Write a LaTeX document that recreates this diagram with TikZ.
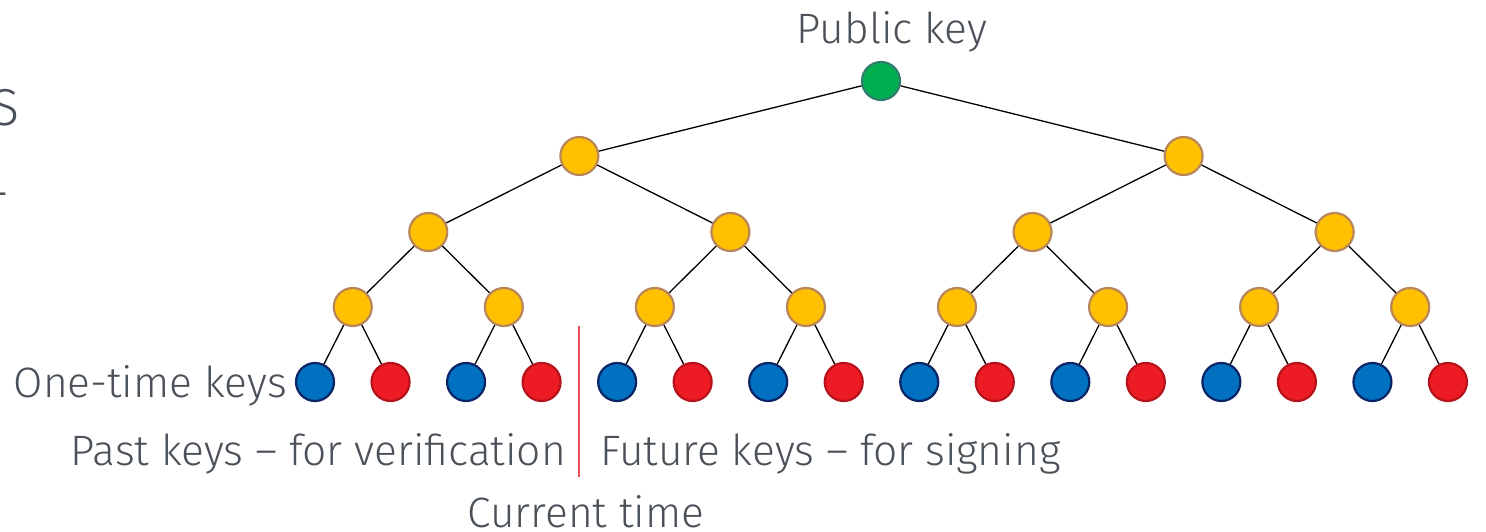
\documentclass[tikz,border=0pt]{standalone}
\usepackage{fontspec}
\setmainfont{Fira Sans Light}
\definecolor{rootgreen}{HTML}{00B050}
\definecolor{rootedge}{HTML}{2F7D6E}
\definecolor{keyyellow}{HTML}{FFC000}
\definecolor{keyedge}{HTML}{B8865A}
\definecolor{keyblue}{HTML}{0070C0}
\definecolor{blueedge}{HTML}{0A2466}
\definecolor{keyred}{HTML}{ED1C24}
\definecolor{rededge}{HTML}{B5121B}
\definecolor{txtgray}{HTML}{4B5158}
\definecolor{timeline}{HTML}{E8505A}
\tikzset{
  key/.style={circle, minimum size=38pt, inner sep=0pt, line width=2.2pt},
  rootkey/.style={key, fill=rootgreen, draw=rootedge},
  innerkey/.style={key, fill=keyyellow, draw=keyedge},
  bluekey/.style={key, fill=keyblue, draw=blueedge},
  redkey/.style={key, fill=keyred, draw=rededge},
  edge/.style={draw=black, line width=1.3pt},
  lbl/.style={text=txtgray, font=\fontsize{42.5}{48}\selectfont, inner sep=0pt},
}
\begin{document}
\begin{tikzpicture}[x=1pt, y=-1pt]
\clip (0,0) rectangle (1486,532);
\useasboundingbox (0,0) rectangle (1486,532);
% leaves
\foreach \k in {1,...,16}{
  \pgfmathsetmacro{\xx}{315+75.53*(\k-1)}
  \pgfmathtruncatemacro{\parity}{mod(\k,2)}
  \ifnum\parity=1
    \node[bluekey] (K\k) at (\xx,382) {};
  \else
    \node[redkey] (K\k) at (\xx,382) {};
  \fi
}
% level 3
\foreach \k in {1,...,8}{
  \pgfmathsetmacro{\xx}{315+75.53*(2*\k-1.5)}
  \node[innerkey] (C\k) at (\xx,307) {};
}
% level 2
\foreach \k in {1,...,4}{
  \pgfmathsetmacro{\xx}{315+75.53*(4*\k-2.5)}
  \node[innerkey] (B\k) at (\xx,232) {};
}
% level 1
\foreach \k in {1,2}{
  \pgfmathsetmacro{\xx}{315+75.53*(8*\k-4.5)}
  \node[innerkey] (A\k) at (\xx,156) {};
}
\node[rootkey] (R) at (881,81) {};
% edges
\draw[edge] (R) -- (A1);
\draw[edge] (R) -- (A2);
\foreach \k [evaluate=\k as \p using {int(ceil(\k/2))}] in {1,...,4}{
  \draw[edge] (A\p) -- (B\k);
}
\foreach \k [evaluate=\k as \p using {int(ceil(\k/2))}] in {1,...,8}{
  \draw[edge] (B\p) -- (C\k);
}
\foreach \k [evaluate=\k as \p using {int(ceil(\k/2))}] in {1,...,16}{
  \draw[edge] (C\p) -- (K\k);
}
% time line
\coordinate (T1) at (579,326);
\coordinate (T2) at (579,477);
\draw[timeline, line width=1.3pt] (T1) -- (T2);
% labels
\node[lbl, anchor=base] (pub) at (892,44) {Public key};
\node[lbl, anchor=base east] (one) at (287,397) {One-time keys};
\node[lbl, anchor=base east] (past) at (566,465) {Past keys – for verification};
\node[lbl, anchor=base west] (fut) at (600,465) {Future keys – for signing};
\node[lbl, anchor=base] (cur) at (586,527) {Current time};
% cut-off slide text at the left edge
\node[text=txtgray, font=\fontsize{52}{60}\selectfont, inner sep=0pt, anchor=base east] (s) at (20,126) {S};
\node[text=txtgray, font=\fontsize{52}{60}\selectfont, inner sep=0pt, anchor=base east] (d) at (10,210) {-};
\end{tikzpicture}
\end{document}
